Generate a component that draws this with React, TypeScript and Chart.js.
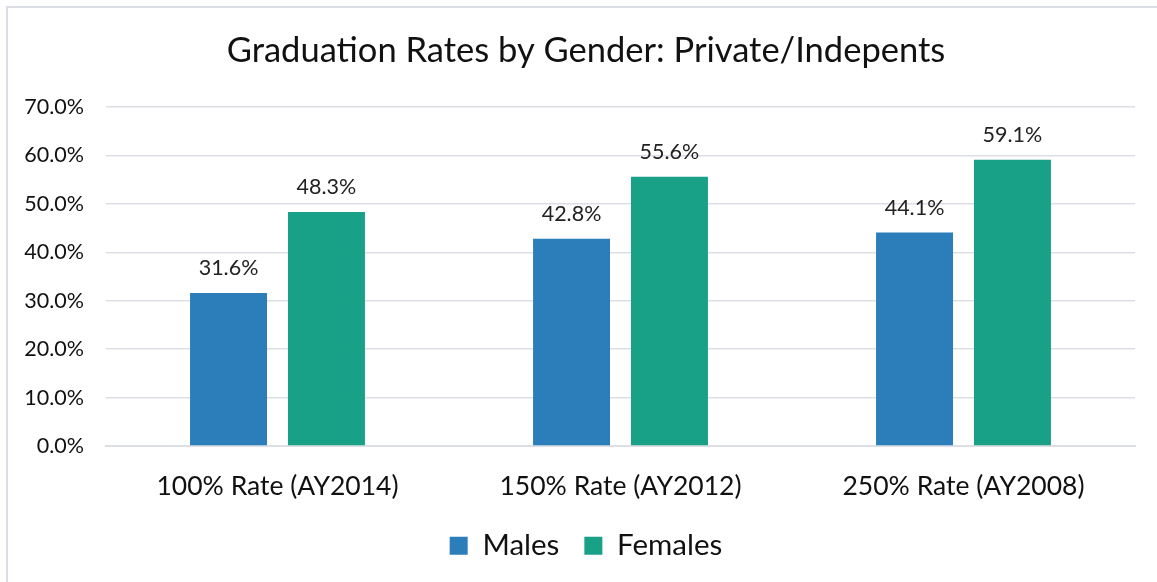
import React, { useEffect, useRef } from "react";
import { Chart, registerables } from "chart.js";

Chart.register(...registerables);

const categories = ["100% Rate (AY2014)", "150% Rate (AY2012)", "250% Rate (AY2008)"];
const seriesNames = ["Males", "Females"];
const males = [31.6, 42.8, 44.1];
const females = [48.3, 55.6, 59.1];
const colors = ["#2B7EB9", "#18A186"];
const titleText = "Graduation Rates by Gender: Private/Indepents";
const FONT = "Lato, 'Open Sans', sans-serif";

const valueLabels = {
  id: "valueLabels",
  afterDatasetsDraw(chart: any) {
    const ctx = chart.ctx;
    ctx.save();
    ctx.font = `21.5px ${FONT}`;
    ctx.fillStyle = "#222222";
    ctx.textAlign = "center";
    ctx.textBaseline = "bottom";
    chart.data.datasets.forEach((ds: any, i: number) => {
      const meta = chart.getDatasetMeta(i);
      meta.data.forEach((el: any, j: number) => {
        ctx.fillText(Number(ds.data[j]).toFixed(1) + "%", el.x, el.y - 14);
      });
    });
    ctx.restore();
  },
};

export default function App() {
  const ref = useRef<HTMLCanvasElement>(null);
  useEffect(() => {
    if (!ref.current) return;
    const chart = new Chart(ref.current, {
      type: "bar",
      data: {
        labels: categories,
        datasets: [
          { label: seriesNames[0], data: males, backgroundColor: colors[0] },
          { label: seriesNames[1], data: females, backgroundColor: colors[1] },
        ],
      },
      options: {
        animation: false,
        responsive: false,
        maintainAspectRatio: false,
        layout: { padding: { top: 15, right: 22, bottom: 11.5, left: 37 } },
        datasets: {
          bar: { categoryPercentage: 0.571, barPercentage: 0.786 },
        } as any,
        plugins: {
          title: {
            display: true,
            text: titleText,
            color: "#111111",
            font: { family: FONT, size: 34.5, weight: "normal" },
            padding: { top: 15, bottom: 35.6 },
          },
          legend: {
            position: "bottom",
            labels: {
              color: "#111111",
              font: { family: FONT, size: 29.5 },
              boxWidth: 18,
              boxHeight: 18,
              padding: 25,
            },
          },
          tooltip: { enabled: false },
        },
        scales: {
          x: {
            afterFit(scale: any) {
              scale.height = 60;
            },
            grid: { display: false, drawTicks: false },
            border: { display: true, color: "#DCE0E6", width: 2 },
            ticks: { color: "#111111", font: { family: FONT, size: 26.5 }, padding: 25 },
          },
          y: {
            min: 0,
            max: 70,
            afterFit(scale: any) {
              scale.width = 69;
              scale._computeLabelArea = () => undefined;
            },
            grid: { color: "#DCE0E6", lineWidth: 1.5, drawTicks: false },
            border: { display: false },
            ticks: {
              stepSize: 10,
              color: "#111111",
              font: { family: FONT, size: 21.5 },
              padding: 22,
              callback: (v: any) => Number(v).toFixed(1) + "%",
            },
          },
        },
      },
      plugins: [valueLabels],
    });
    return () => chart.destroy();
  }, []);

  return (
    <div style={{ position: "fixed", left: 0, top: 0, width: 1157, height: 582, overflow: "hidden", background: "#fff" }}>
      <div
        style={{
          position: "absolute",
          left: 6,
          top: 6,
          width: 1200,
          height: 640,
          borderLeft: "2px solid #DADDE3",
          borderTop: "2px solid #DADDE3",
        }}
      />
      <canvas ref={ref} width={1157} height={582} style={{ position: "absolute", left: 0, top: 0 }} />
    </div>
  );
}
